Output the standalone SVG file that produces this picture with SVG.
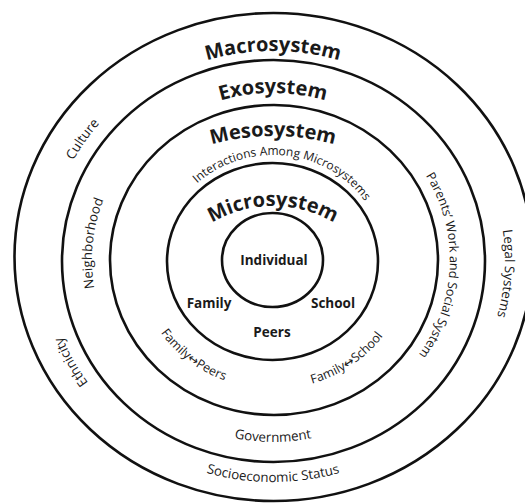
<svg xmlns="http://www.w3.org/2000/svg" width="525" height="503" viewBox="0 0 525 503">
<defs>
<style>
.ring{fill:none;stroke:#111;stroke-width:2.6}
.title{font-family:"Open Sans","Noto Sans",sans-serif;font-weight:700;font-size:20px;fill:#1a1a1a}
.core{font-family:"Open Sans","Noto Sans",sans-serif;font-weight:700;font-size:13.5px;fill:#1a1a1a}
.lbl{font-family:"Open Sans","Noto Sans","DejaVu Sans",sans-serif;font-size:13.3px;fill:#1a1a1a}
</style>
<path id="pMacro" d="M 51,260 A 222 209 0 0 1 495,260"/>
<path id="pExo" d="M 96,260 A 177 167 0 0 1 450,260"/>
<path id="pMeso" d="M 43,366 A 230 230 0 0 1 503,366"/>
<path id="pInter" d="M 162,260 A 111 105 0 0 1 384,260"/>
<path id="pMicro" d="M 153,326 A 120 120 0 0 1 393,326"/>
<path id="pFP" d="M 137,262.3 A 136 129 0 0 0 298.9,386.6"/>
<path id="pFS" d="M 240.1,385.2 A 136 129 0 0 0 408.7,269"/>
<path id="pGov" d="M 80,260 A 193 182 0 0 0 466,260"/>
<path id="pSES" d="M 38,260 A 235 222 0 0 0 508,260"/>
<path id="pCulture" d="M 56.9,322.3 A 226 213 0 0 1 245.5,48.6"/>
<path id="pEth" d="M 223.3,467.8 A 226 213 0 0 1 64.5,177.8"/>
<path id="pLegal" d="M 432.4,101.6 A 232 218 0 0 1 411.3,435"/>
<path id="pNeigh" d="M 144.1,380.1 A 181 171 0 0 1 170.2,119.2"/>
<path id="pParents" d="M 294.6,94.3 A 177 167 0 0 1 282.3,426.8"/>
</defs>
<rect width="525" height="503" fill="#fff"/>
<g id="macrosystem">
<ellipse class="ring" cx="273.5" cy="257" rx="259" ry="244"/>
<text class="title" text-anchor="middle"><textPath href="#pMacro" startOffset="50%">Macrosystem</textPath></text>
<text class="lbl" text-anchor="middle"><textPath href="#pCulture" startOffset="50%">Culture</textPath></text>
<text class="lbl" text-anchor="middle"><textPath href="#pEth" startOffset="50%">Ethnicity</textPath></text>
<text class="lbl" text-anchor="middle"><textPath href="#pLegal" startOffset="50%">Legal Systems</textPath></text>
<text class="lbl" text-anchor="middle"><textPath href="#pSES" startOffset="50%">Socioeconomic Status</textPath></text>
</g>
<g id="exosystem">
<ellipse class="ring" cx="273.5" cy="261" rx="211.5" ry="201"/>
<text class="title" text-anchor="middle"><textPath href="#pExo" startOffset="50%">Exosystem</textPath></text>
<text class="lbl" text-anchor="middle"><textPath href="#pNeigh" startOffset="50%">Neighborhood</textPath></text>
<text class="lbl" text-anchor="middle" style="font-size:12.6px"><textPath href="#pParents" startOffset="50%">Parents’ Work and Social System</textPath></text>
<text class="lbl" text-anchor="middle"><textPath href="#pGov" startOffset="50%">Government</textPath></text>
</g>
<g id="mesosystem">
<ellipse class="ring" cx="274" cy="260" rx="164" ry="155"/>
<text class="title" text-anchor="middle"><textPath href="#pMeso" startOffset="50%">Mesosystem</textPath></text>
<text class="lbl" text-anchor="middle" style="font-size:12px"><textPath href="#pInter" startOffset="53.5%">Interactions Among Microsystems</textPath></text>
<text class="lbl" text-anchor="middle" style="font-size:12.5px"><textPath href="#pFP" startOffset="50%">Family↔Peers</textPath></text>
<text class="lbl" text-anchor="middle" style="font-size:12.5px"><textPath href="#pFS" startOffset="50%">Family↔School</textPath></text>
</g>
<g id="microsystem">
<ellipse class="ring" cx="272.5" cy="261.5" rx="105.5" ry="98.5"/>
<text class="title" text-anchor="middle"><textPath href="#pMicro" startOffset="50%">Microsystem</textPath></text>
<text class="core" x="209" y="308" text-anchor="middle">Family</text>
<text class="core" x="333" y="308" text-anchor="middle">School</text>
<text class="core" x="272" y="337" text-anchor="middle">Peers</text>
</g>
<g id="individual">
<ellipse class="ring" cx="272.5" cy="260" rx="50.5" ry="47"/>
<text class="core" x="274" y="265" text-anchor="middle">Individual</text>
</g>
<g id="connectors"/>
</svg>
